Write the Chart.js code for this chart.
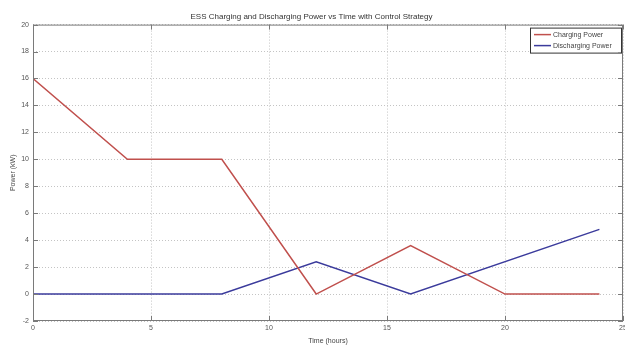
<!DOCTYPE html>
<html>
<head>
<meta charset="utf-8">
<script src="https://cdn.jsdelivr.net/npm/chart.js@4"></script>
<style>
  html, body { margin: 0; padding: 0; background: #ffffff; }
  #wrap { width: 625px; height: 345px; position: relative; }
</style>
</head>
<body>
<div id="wrap"><canvas id="ess-canvas"></canvas></div>
<script>
// Chart data
var timeHours = [0, 4, 8, 12, 16, 20, 24];
var chargingPower = [16, 10, 10, 0, 3.6, 0, 0];
var dischargeTimes = [0, 8, 12, 16, 24];
var dischargingPower = [0, 0, 2.4, 0, 4.8];
var seriesNames = ["Charging Power", "Discharging Power"];

var RED = "#c0504d";
var BLUE = "#3b3b9c";
var TXT = "#555555";
var FONT = "'Liberation Sans', Arial, sans-serif";

function toPoints(xs, ys) {
  var pts = [];
  for (var i = 0; i < xs.length; i++) pts.push({ x: xs[i], y: ys[i] });
  return pts;
}

// Frame, inward tick marks (top/bottom, left/right) and boxed legend
var matlabFrame = {
  id: "matlabFrame",
  afterDatasetsDraw: function(chart) {
    var c = chart.ctx, a = chart.chartArea;
    var xs = chart.scales.x, ys = chart.scales.y;
    c.save();
    c.strokeStyle = "#7a7a7a";
    c.lineWidth = 1;
    c.strokeRect(a.left + 0.5, a.top + 0.5, a.right - a.left - 1, a.bottom - a.top - 1);
    c.beginPath();
    xs.ticks.forEach(function(t) {
      var px = Math.round(xs.getPixelForValue(t.value)) + 0.5;
      c.moveTo(px, a.bottom); c.lineTo(px, a.bottom - 5);
      c.moveTo(px, a.top); c.lineTo(px, a.top + 5);
    });
    ys.ticks.forEach(function(t) {
      var py = Math.round(ys.getPixelForValue(t.value)) + 0.5;
      c.moveTo(a.left, py); c.lineTo(a.left + 5, py);
      c.moveTo(a.right, py); c.lineTo(a.right - 5, py);
    });
    c.stroke();

    // legend box in the top right corner
    var bw = 91, bh = 25;
    var bx = a.right - bw - 2, by = a.top + 3;
    c.fillStyle = "#ffffff";
    c.fillRect(bx, by, bw, bh);
    c.strokeStyle = "#333333";
    c.strokeRect(bx + 0.5, by + 0.5, bw, bh);
    c.font = "7px " + FONT;
    c.textBaseline = "middle";
    chart.data.datasets.forEach(function(ds, i) {
      var ly = by + 7 + i * 11;
      c.strokeStyle = ds.borderColor;
      c.lineWidth = 1.5;
      c.beginPath();
      c.moveTo(bx + 4, ly); c.lineTo(bx + 21, ly);
      c.stroke();
      c.fillStyle = "#444444";
      c.fillText(ds.label, bx + 23, ly);
    });
    c.restore();
  }
};

new Chart(document.getElementById("ess-canvas").getContext("2d"), {
  type: "line",
  data: {
    datasets: [{
      label: seriesNames[0],
      data: toPoints(timeHours, chargingPower),
      borderColor: RED,
      borderWidth: 1.5,
      pointRadius: 0,
      tension: 0,
    }, {
      label: seriesNames[1],
      data: toPoints(dischargeTimes, dischargingPower),
      borderColor: BLUE,
      borderWidth: 1.5,
      pointRadius: 0,
      tension: 0,
    }],
  },
  options: {
    responsive: true,
    maintainAspectRatio: false,
    animation: false,
    layout: { padding: { left: 0, right: 2, bottom: 0 } },
    plugins: {
      legend: { display: false },
      tooltip: { enabled: false },
      title: {
        display: true,
        text: "ESS Charging and Discharging Power vs Time with Control Strategy",
        color: "#333333",
        font: { family: FONT, size: 8, weight: "normal" },
        padding: { top: 12, bottom: 3 },
      },
    },
    scales: {
      x: {
        type: "linear",
        min: 0,
        max: 25,
        grid: { color: "#c4c4c4", drawTicks: false },
        border: { display: false, dash: [1, 2] },
        ticks: { stepSize: 5, color: TXT, padding: 3, maxRotation: 0, font: { family: FONT, size: 7 } },
        title: { display: true, text: "Time (hours)", color: "#444444", padding: { top: 1, bottom: 0 }, font: { family: FONT, size: 7 } },
        afterFit: function(scale) {
          scale.height = 24;
          scale.paddingRight = 0;
        },
      },
      y: {
        min: -2,
        max: 20,
        grid: { color: "#c4c4c4", drawTicks: false },
        border: { display: false, dash: [1, 2] },
        ticks: { stepSize: 2, color: TXT, padding: 4, font: { family: FONT, size: 7 } },
        title: { display: true, text: "Power (kW)", color: "#444444", padding: { top: 9, bottom: 2 }, font: { family: FONT, size: 7 } },
        afterFit: function(scale) { scale.width = 33; },
      },
    },
  },
  plugins: [matlabFrame],
});
</script>
</body>
</html>
